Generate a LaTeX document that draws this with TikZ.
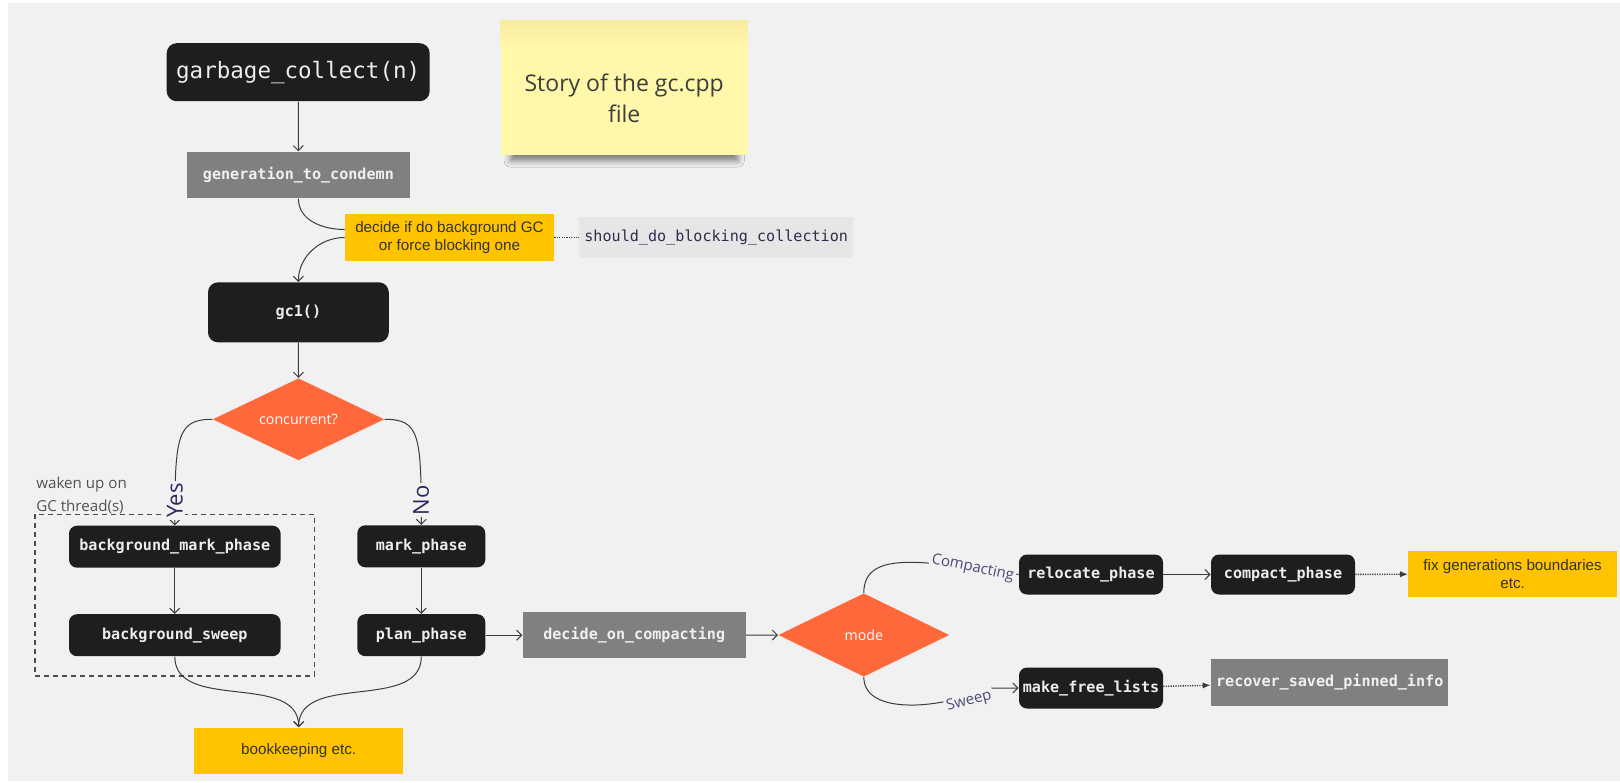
\documentclass[tikz,border=0pt]{standalone}
\usepackage{fontspec}
\setmainfont{Open Sans}
\setmonofont{DejaVu Sans Mono}
\newfontfamily\boxfont{Liberation Sans}
\usetikzlibrary{shapes.geometric,arrows.meta,shadows.blur}
\definecolor{bg}{RGB}{241,241,241}
\definecolor{boxblack}{RGB}{30,30,30}
\definecolor{boxgray}{RGB}{128,128,128}
\definecolor{noteyellow}{RGB}{255,195,0}
\definecolor{sticky}{RGB}{255,247,170}
\definecolor{stickytop}{RGB}{246,236,160}
\definecolor{decision}{RGB}{255,104,58}
\definecolor{codebg}{RGB}{230,230,230}
\definecolor{codeink}{RGB}{45,45,80}
\definecolor{edgegray}{RGB}{60,60,60}
\definecolor{labelink}{RGB}{40,40,95}
\definecolor{branchink}{RGB}{75,75,120}

\begin{document}
\begin{tikzpicture}[x=5pt,y=5pt]
\tikzstyle{every node}+=[inner sep=0pt]
\tikzstyle{func}=[rectangle, rounded corners=4pt, fill=boxblack, text=white!93!black, font=\ttfamily\bfseries\fontsize{7.55}{9}\selectfont]
\tikzstyle{helper}=[rectangle, fill=boxgray, text=white!94!black, font=\ttfamily\bfseries\fontsize{7.55}{9}\selectfont]
\tikzstyle{note}=[rectangle, fill=noteyellow, text=black!80, align=center, font=\boxfont\fontsize{7.6}{9}\selectfont]
\tikzstyle{choice}=[diamond, aspect=2, fill=decision, text=white, font=\fontsize{7.1}{8}\selectfont]
\tikzstyle{flow}=[draw=edgegray, line width=0.5pt, -{Straight Barb[length=2.5pt,width=5pt]}]
\tikzstyle{dotflow}=[draw=edgegray, line width=0.7pt, dash pattern=on 0.6pt off 0.6pt, -{Latex[length=4pt,width=3.2pt]}]
\tikzstyle{branch}=[fill=bg, inner sep=1pt, text=branchink, font=\fontsize{7.5}{9}\selectfont]
\tikzstyle{answer}=[branch, rotate=90, text=labelink, font=\fontsize{11}{12}\selectfont]
\useasboundingbox (0,0) rectangle (162,-78.2);
\fill[bg] (0.8,-0.3) rectangle (162,-78.1);
\fill[sticky, blur shadow={shadow xshift=0pt, shadow yshift=-6pt, shadow scale=0.92, shadow blur radius=3.5pt, shadow opacity=50}] (50.07,-2.0) rectangle (74.77,-15.5);
\shade[top color=stickytop, bottom color=sticky] (50.07,-2.0) rectangle (74.77,-4.6);
\node[align=center, text=black!76, font=\fontsize{11.5}{15.5}\selectfont] (story) at (62.42,-9.8) {Story of the gc.cpp\\file};
\node[func, rounded corners=5pt, minimum width=131.5pt, minimum height=29pt, font=\ttfamily\fontsize{11.26}{13}\selectfont] (gcoll) at (29.82,-7.22) {garbage\_collect(n)};
\node[helper, minimum width=111.5pt, minimum height=23.3pt] (gen) at (29.84,-17.5) {generation\_to\_condemn};
\node[note, minimum width=104.5pt, minimum height=23.2pt] (decide) at (44.95,-23.75) {decide if do background GC\\or force blocking one};
\node[helper, fill=codebg, text=codeink, font=\ttfamily\fontsize{7.55}{9}\selectfont, minimum width=136.8pt, minimum height=20.2pt] (should) at (71.62,-23.75) {should\_do\_blocking\_collection};
\node[func, rounded corners=5pt, minimum width=90.4pt, minimum height=30pt] (gc1) at (29.84,-31.23) {gc1()};
\node[choice, minimum width=85.8pt, minimum height=41pt] (conc) at (29.85,-41.93) {concurrent?};
\node[anchor=west, align=left, text=black!68, font=\fontsize{7.56}{11.5}\selectfont] (wake) at (3.6,-49.5) {waken up on\\GC thread(s)};
\node[func, minimum width=105.8pt, minimum height=21pt] (bmp) at (17.48,-54.67) {background\_mark\_phase};
\node[func, minimum width=105.8pt, minimum height=21pt] (bsweep) at (17.48,-63.52) {background\_sweep};
\node[func, minimum width=64pt, minimum height=21pt] (mark) at (42.13,-54.63) {mark\_phase};
\node[func, minimum width=64pt, minimum height=21pt] (plan) at (42.13,-63.52) {plan\_phase};
\node[note, minimum width=104.6pt, minimum height=23.2pt] (book) at (29.87,-75.08) {bookkeeping etc.};
\node[helper, minimum width=111.5pt, minimum height=23.2pt] (doc) at (63.42,-63.52) {decide\_on\_compacting};
\node[choice, minimum width=85.5pt, minimum height=41.7pt] (mode) at (86.38,-63.5) {mode};
\node[func, minimum width=72pt, minimum height=20pt] (reloc) at (109.1,-57.45) {relocate\_phase};
\node[func, minimum width=72pt, minimum height=20pt] (compact) at (128.3,-57.45) {compact\_phase};
\node[note, minimum width=104.2pt, minimum height=23.3pt] (fix) at (151.26,-57.4) {fix generations boundaries\\etc.};
\node[func, minimum width=72pt, minimum height=20.5pt] (mfl) at (109.1,-68.8) {make\_free\_lists};
\node[helper, minimum width=118.7pt, minimum height=23.5pt] (recover) at (132.97,-68.25) {recover\_saved\_pinned\_info};
\draw[black!70, line width=0.6pt, dash pattern=on 2.5pt off 2pt] (3.5,-51.43) rectangle (31.43,-67.6);
\draw[flow] (gcoll) -- (gen);
\draw[flow, -] (gen.south) to[out=-90,in=180] ([yshift=4pt]decide.west);
\draw[flow] (decide.west) to[out=180,in=90] (gc1.north);
\draw[dotflow, -] (decide) -- (should);
\draw[flow] (gc1) -- (conc);
\draw[flow] (conc.west) .. controls +(-3.5,0) and +(0,9) .. (bmp.north) node[answer, pos=0.9] {Yes};
\draw[flow] (conc.east) .. controls +(3.5,0) and +(0,9) .. (mark.north) node[answer, pos=0.9] {No};
\draw[flow] (bmp) -- (bsweep);
\draw[flow] (mark) -- (plan);
\draw[flow] (bsweep.south) to[out=-90,in=90] (book.north);
\draw[flow] (plan.south) to[out=-90,in=90] (book.north);
\draw[flow] (plan) -- (doc);
\draw[flow] (doc) -- (mode);
\draw[flow, -] (mode.north) .. controls +(0,4.5) and +(-9,1.2) .. (reloc.west) node[branch, pos=0.82, rotate=-12] {Compacting};
\draw[flow] (mode.south) .. controls +(0,-4) and +(-4,-2) .. ([xshift=-16pt]mfl.west) node[branch, pos=0.86, rotate=15, yshift=-3pt] {Sweep} -- (mfl.west);
\draw[flow] (reloc) -- (compact);
\draw[dotflow] (compact) -- (fix);
\draw[dotflow] (mfl) -- (recover);
\end{tikzpicture}
\end{document}
